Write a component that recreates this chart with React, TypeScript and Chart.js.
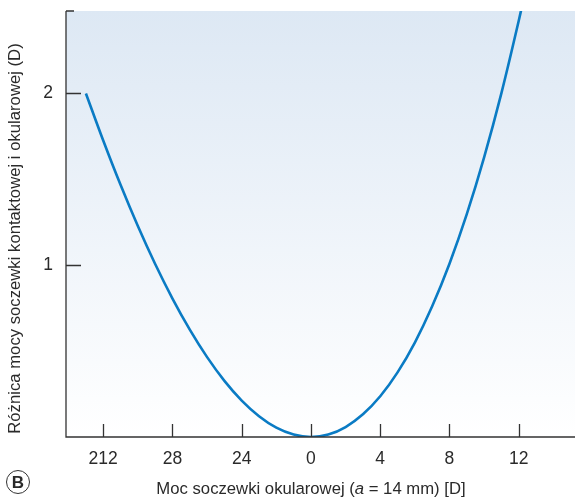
import React, { useEffect, useRef } from 'react';
import { Chart, registerables } from 'chart.js';
Chart.register(...registerables);

const spectaclePower = [-13, -12, -11, -10, -9, -8, -7, -6, -5, -4, -3, -2, -1, 0, 1, 2, 3, 4, 5, 6, 7, 8, 9, 10, 11, 12, 12.15];
const powerDifference = [2.0, 1.726, 1.468, 1.228, 1.007, 0.806, 0.625, 0.465, 0.327, 0.212, 0.121, 0.054, 0.014, 0, 0.014, 0.058, 0.132, 0.237, 0.376, 0.55, 0.761, 1.009, 1.297, 1.628, 2.002, 2.423, 2.49];
const xTickValues = [-12, -8, -4, 0, 4, 8, 12];
const xTickLabels = ['212', '28', '24', '0', '4', '8', '12'];
const yTickValues = [1, 2];
const yTickLabels = ['1', '2'];
const yTitle = 'Różnica mocy soczewki kontaktowej i okularowej (D)';

const FONT = '"Liberation Sans", Arial, sans-serif';
const TEXT = '#2a2a2a';

const decorPlugin = {
  id: 'decor',
  beforeDatasetsDraw(chart: any) {
    const { ctx, chartArea } = chart;
    const g = ctx.createLinearGradient(0, chartArea.top, 0, chartArea.bottom);
    g.addColorStop(0, '#dde8f4');
    g.addColorStop(1, '#ffffff');
    ctx.save();
    ctx.fillStyle = g;
    ctx.fillRect(chartArea.left, chartArea.top, chartArea.right - chartArea.left, chartArea.bottom - chartArea.top);
    ctx.restore();
  },
  afterDraw(chart: any) {
    const { ctx, chartArea, scales } = chart;
    ctx.save();
    ctx.strokeStyle = '#333';
    ctx.lineWidth = 1.3;
    ctx.beginPath();
    ctx.moveTo(chartArea.left, chartArea.top);
    ctx.lineTo(chartArea.left, chartArea.bottom);
    ctx.lineTo(chartArea.right, chartArea.bottom);
    ctx.moveTo(chartArea.left, chartArea.top);
    ctx.lineTo(chartArea.left + 8, chartArea.top);
    ctx.stroke();
    ctx.beginPath();
    yTickValues.forEach((v) => {
      const y = Math.round(scales.y.getPixelForValue(v)) + 0.5;
      ctx.moveTo(chartArea.left, y);
      ctx.lineTo(chartArea.left + 15, y);
    });
    xTickValues.forEach((v) => {
      const x = Math.round(scales.x.getPixelForValue(v)) + 0.5;
      ctx.moveTo(x, chartArea.bottom);
      ctx.lineTo(x, chartArea.bottom - 13);
    });
    ctx.stroke();
    const parts = [
      { t: 'Moc soczewki okularowej (', f: `16.7px ${FONT}` },
      { t: 'a', f: `italic 16.7px ${FONT}` },
      { t: ' = 14 mm) [D]', f: `16.7px ${FONT}` },
    ];
    let total = 0;
    parts.forEach((p) => { ctx.font = p.f; total += ctx.measureText(p.t).width; });
    let x = 311 - total / 2;
    ctx.fillStyle = TEXT;
    ctx.textBaseline = 'middle';
    ctx.textAlign = 'left';
    parts.forEach((p) => { ctx.font = p.f; ctx.fillText(p.t, x, 489); x += ctx.measureText(p.t).width; });
    // y title
    ctx.translate(15, 238.5);
    ctx.rotate(-Math.PI / 2);
    ctx.font = `16.7px ${FONT}`;
    ctx.textAlign = 'center';
    ctx.fillText(yTitle, 0, 0);
    ctx.restore();
  },
};

export default function App() {
  const ref = useRef<HTMLCanvasElement>(null);
  useEffect(() => {
    document.body.style.margin = '0';
    const chart = new Chart(ref.current!, {
      type: 'line',
      data: {
        datasets: [{
          data: spectaclePower.map((x, i) => ({ x, y: powerDifference[i] })),
          borderColor: '#0a7bc4',
          borderWidth: 2.6,
          pointRadius: 0,
          cubicInterpolationMode: 'monotone',
          fill: false,
        }],
      },
      options: {
        animation: false,
        responsive: false,
        maintainAspectRatio: false,
        layout: { padding: { top: 11, left: 0, right: 0, bottom: 0 } },
        plugins: { legend: { display: false }, tooltip: { enabled: false } },
        scales: {
          x: {
            type: 'linear',
            min: -14.15,
            max: 15.25,
            afterBuildTicks: (s: any) => { s.ticks = xTickValues.map((v) => ({ value: v })); },
            afterFit: (s: any) => { s.height = 62; s.paddingLeft = 0; s.paddingRight = 0; },
            grid: { display: false, drawTicks: false },
            border: { display: false },
            ticks: {
              padding: 12,
              color: TEXT,
              font: { family: FONT, size: 17.5 },
              maxRotation: 0,
              callback: (v: any) => xTickLabels[xTickValues.indexOf(Number(v))] ?? '',
            },
          },
          y: {
            type: 'linear',
            min: 0,
            max: 2.48,
            afterBuildTicks: (s: any) => { s.ticks = yTickValues.map((v) => ({ value: v })); },
            afterFit: (s: any) => { s.width = 66; s.paddingTop = 0; s.paddingBottom = 0; },
            grid: { display: false, drawTicks: false },
            border: { display: false },
            ticks: {
              padding: 13,
              color: TEXT,
              font: { family: FONT, size: 17.5 },
              callback: (v: any) => yTickLabels[yTickValues.indexOf(Number(v))] ?? '',
            },
          },
        },
      },
      plugins: [decorPlugin],
    } as any);
    return () => chart.destroy();
  }, []);
  return (
    <div style={{ position: 'relative', width: 575, height: 499 }}>
      <canvas ref={ref} width={575} height={499} style={{ display: 'block' }} />
      <div style={{
        position: 'absolute', left: 6, top: 470, width: 22, height: 22, borderRadius: '50%',
        border: '1.5px solid #333', display: 'flex', alignItems: 'center', justifyContent: 'center',
        fontFamily: FONT, fontSize: 17, fontWeight: 'bold', color: TEXT, lineHeight: 1,
      }}>B</div>
    </div>
  );
}
